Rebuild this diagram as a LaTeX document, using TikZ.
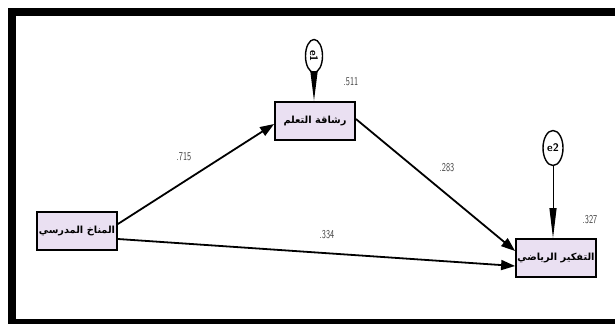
\documentclass[tikz,border=0pt]{standalone}
\usepackage{fontspec}
\usetikzlibrary{arrows.meta,shapes.geometric}
\TeXXeTstate=1
\newfontfamily\arabicfont[Script=Arabic]{DejaVu Sans}
\definecolor{boxfill}{RGB}{234,224,242}
\definecolor{numgray}{RGB}{60,60,60}
\tikzset{
  varbox/.style={draw=black, line width=1.8pt, fill=boxfill, minimum width=80pt, minimum height=38pt, inner sep=0.5pt, font=\arabicfont\bfseries\fontsize{9.8}{11}\selectfont},
  errnode/.style={ellipse, draw=black, line width=1.4pt, fill=white, inner sep=0pt, font=\sffamily\bfseries\fontsize{11}{11}\selectfont},
  path/.style={line width=1.8pt, -{Triangle[length=14pt,width=10pt]}},
  errarrow/.style={line width=1pt, -{Triangle[length=30pt,width=7pt]}},
  coef/.style={text=numgray, font=\sffamily\fontsize{12}{12}\selectfont, xscale=0.7, inner sep=0pt}
}
\begin{document}
\begin{tikzpicture}[x=1pt,y=-1pt]
\useasboundingbox (0,0) rectangle (615,324);
% frame
\fill[black] (8,8) rectangle (615,16);
\fill[black] (8,8) rectangle (16,324);
\fill[black] (8,319) rectangle (615,324);
% variables
\node[varbox] (clim) at (77,231) {\beginR المناخ المدرسي\endR};
\node[varbox] (agil) at (315,121) {\beginR رشاقة التعلم\endR};
\node[varbox] (math) at (556,258) {\beginR التفكير الرياضي\endR};
% errors
\node[errnode, minimum width=17pt, minimum height=33pt] (e1) at (314,56) {\rotatebox{-90}{e1}};
\node[errnode, minimum width=20pt, minimum height=35pt] (e2) at (553,148) {e2};
% connectors
\draw[path] (clim.east |- 0,224) -- (agil.west |- 0,124);
\draw[path] (clim.east |- 0,239) -- (math.west |- 0,266);
\draw[path] (agil.east |- 0,119) -- (math.west |- 0,251);
\draw[errarrow, line width=1.6pt] (e1.south) -- (agil.north -| e1.south);
\draw[errarrow] (e2.south) -- (math.north -| e2.south);
% coefficients
\node[coef] (c1) at (351,82) {.511};
\node[coef] (c2) at (184,157) {.715};
\node[coef] (c3) at (447,168) {.283};
\node[coef] (c4) at (327,235) {.334};
\node[coef] (c5) at (590,220) {.327};
\end{tikzpicture}
\end{document}
